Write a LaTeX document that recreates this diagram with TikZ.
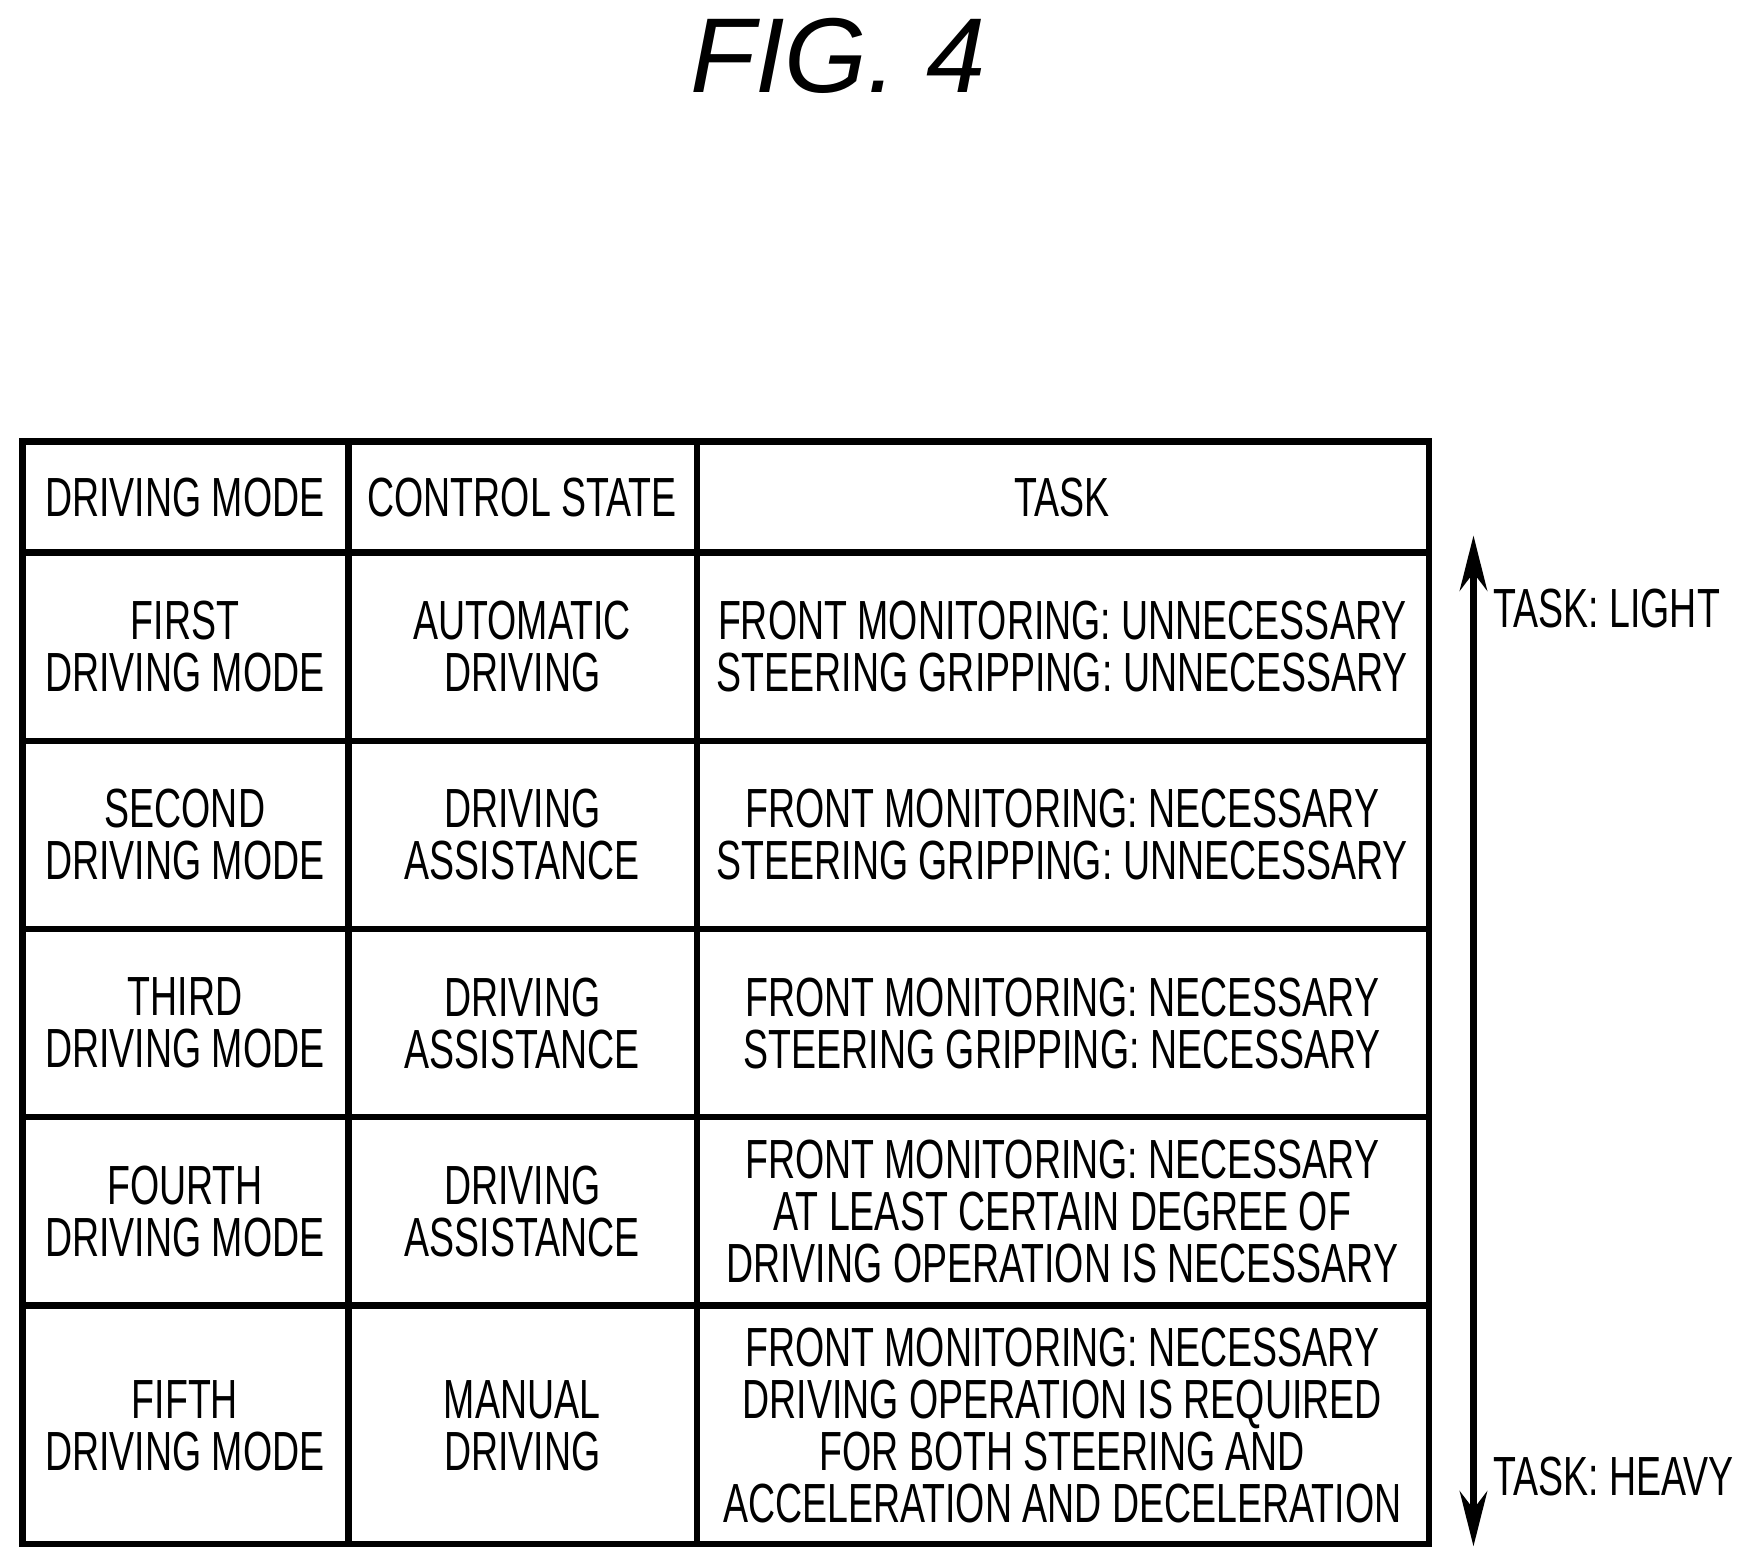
\documentclass[tikz,border=0pt]{standalone}
\usepackage{fontspec}
\setmainfont{Liberation Sans}[FakeStretch=0.68]
\newfontfamily\titlefont{Liberation Sans}
\usetikzlibrary{arrows.meta, positioning}
\tikzset{
    cell/.style={align=center, inner sep=0pt, font=\fontsize{14}{13.2}\selectfont},
    side/.style={anchor=west, inner sep=0pt, font=\fontsize{14}{13.2}\selectfont},
}
\begin{document}
\begin{tikzpicture}[x=0.01cm, y=-0.01cm, line width=1.6pt]
    \useasboundingbox (0,0) rectangle (1560,1391);
    \node[font=\titlefont\itshape\fontsize{27}{30}\selectfont] (title) at (748,50) {FIG. 4};

    % table frame
    \draw (20,394) rectangle (1275,1378);
    \foreach \x in {311,622}
        \draw (\x,394) -- (\x,1378);
    \foreach \y in {493,661,829,997,1165}
        \draw (20,\y) -- (1275,\y);

    % header
    \node[cell] (hmode) at (165,444) {DRIVING MODE};
    \node[cell] (hstate) at (466,444) {CONTROL STATE};
    \node[cell] (htask) at (948,444) {TASK};

    \node[cell] (m1) at (165,577) {FIRST\\DRIVING MODE};
    \node[cell] (s1) at (466,577) {AUTOMATIC\\DRIVING};
    \node[cell] (t1) at (948,577) {FRONT MONITORING: UNNECESSARY\\STEERING GRIPPING: UNNECESSARY};

    \node[cell] (m2) at (165,745) {SECOND\\DRIVING MODE};
    \node[cell] (s2) at (466,745) {DRIVING\\ASSISTANCE};
    \node[cell] (t2) at (948,745) {FRONT MONITORING: NECESSARY\\STEERING GRIPPING: UNNECESSARY};

    \node[cell] (m3) at (165,913) {THIRD\\DRIVING MODE};
    \node[cell] (s3) at (466,913) {DRIVING\\ASSISTANCE};
    \node[cell] (t3) at (948,913) {FRONT MONITORING: NECESSARY\\STEERING GRIPPING: NECESSARY};

    \node[cell] (m4) at (165,1081) {FOURTH\\DRIVING MODE};
    \node[cell] (s4) at (466,1081) {DRIVING\\ASSISTANCE};
    \node[cell] (t4) at (948,1081) {FRONT MONITORING: NECESSARY\\AT LEAST CERTAIN DEGREE OF\\DRIVING OPERATION IS NECESSARY};

    \node[cell] (m5) at (165,1272) {FIFTH\\DRIVING MODE};
    \node[cell] (s5) at (466,1272) {MANUAL\\DRIVING};
    \node[cell] (t5) at (948,1272) {FRONT MONITORING: NECESSARY\\DRIVING OPERATION IS REQUIRED\\FOR BOTH STEERING AND\\ACCELERATION AND DECELERATION};

    % task scale
    \coordinate (light) at (1315,478);
    \coordinate (heavy) at (1315,1380);
    \draw[{Stealth[length=14pt,width=7pt]}-{Stealth[length=14pt,width=7pt]}] (light) -- (heavy);
    \node[side] (tlight) at (1330,543) {TASK: LIGHT};
    \node[side] (theavy) at (1330,1318) {TASK: HEAVY};
\end{tikzpicture}
\end{document}
